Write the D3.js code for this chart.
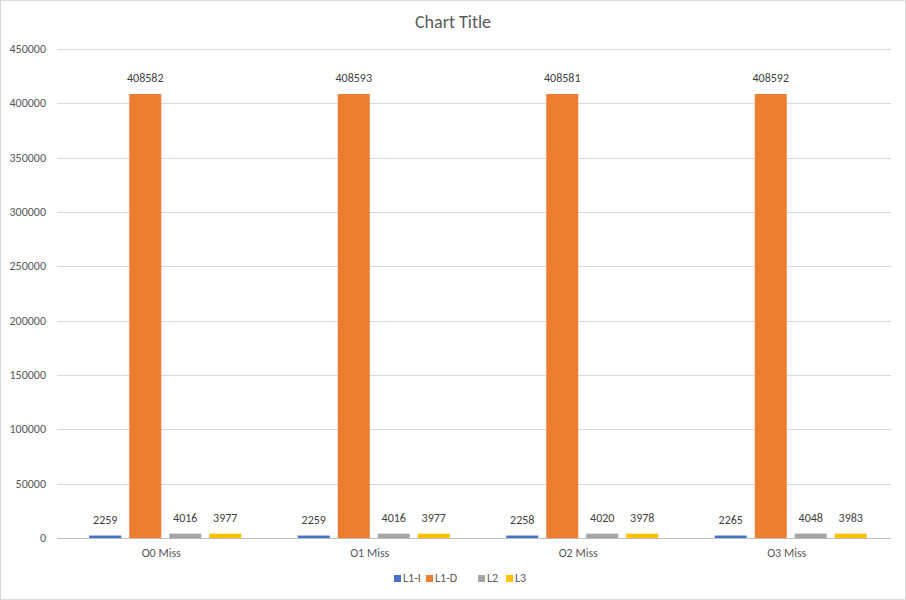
<!DOCTYPE html>
<html><head><meta charset="utf-8">
<script src="https://cdn.jsdelivr.net/npm/d3@7"></script>
<style>body{margin:0;font-family:Calibri,Carlito,"Liberation Sans",sans-serif;}</style>
</head><body>
<script>
const categories = ["O0 Miss", "O1 Miss", "O2 Miss", "O3 Miss"]
const seriesNames = ["L1-I", "L1-D", "L2", "L3"]
const colors = ["#4472c4", "#ed7d31", "#a5a5a5", "#ffc000"]
const values = [
  [2259, 2259, 2258, 2265],
  [408582, 408593, 408581, 408592],
  [4016, 4016, 4020, 4048],
  [3977, 3977, 3978, 3983]
]
const yTicks = d3.range(0, 450001, 50000)

const W = 906, H = 600
const plotLeft = 57, plotRight = 891, plotTop = 49, plotBottom = 538

const svg = d3.select("body").append("svg").attr("width", W).attr("height", H)
svg.append("rect").attr("x", 0.5).attr("y", 0.5).attr("width", W - 1).attr("height", H - 1)
  .attr("fill", "#fff").attr("stroke", "#d9d9d9")

const y = d3.scaleLinear().domain([0, 450000]).range([plotBottom, plotTop])
const x = d3.scaleBand().domain(categories).range([plotLeft, plotRight])
const inner = d3.scaleBand().domain(seriesNames).range([0, 152]).paddingInner(0.2)
const groupOff = (x.bandwidth() - 152) / 2 + 4

svg.append("g").selectAll("line").data(yTicks).enter().append("line")
  .attr("x1", plotLeft).attr("x2", plotRight)
  .attr("y1", d => Math.round(y(d)) + 0.5).attr("y2", d => Math.round(y(d)) + 0.5)
  .attr("stroke", d => d === 0 ? "#bfbfbf" : "#d9d9d9")

svg.append("g").selectAll("text").data(yTicks).enter().append("text")
  .attr("x", 46).attr("y", d => y(d) + 4).attr("text-anchor", "end")
  .attr("font-size", 12).attr("fill", "#595959").text(d => d)

svg.append("g").selectAll("text").data(categories).enter().append("text")
  .attr("x", d => x(d) + x.bandwidth() / 2).attr("y", 557).attr("text-anchor", "middle")
  .attr("font-size", 12).attr("fill", "#595959").text(d => d)

seriesNames.forEach((s, si) => {
  const g = svg.append("g")
  categories.forEach((c, ci) => {
    const v = values[si][ci]
    const bx = x(c) + groupOff + inner(s)
    g.append("rect").attr("x", bx).attr("y", y(v)).attr("width", inner.bandwidth())
      .attr("height", plotBottom - y(v)).attr("fill", colors[si])
    g.append("text").attr("x", bx + inner.bandwidth() / 2).attr("y", y(v) - 12)
      .attr("text-anchor", "middle").attr("font-size", 12).attr("fill", "#404040").text(v)
  })
})

svg.append("text").attr("x", W / 2).attr("y", 28).attr("text-anchor", "middle")
  .attr("font-size", 18).attr("fill", "#595959").text("Chart Title")

const lg = svg.append("g")
const lx = [394, 426, 478, 506]
seriesNames.forEach((s, i) => {
  lg.append("rect").attr("x", lx[i]).attr("y", 575).attr("width", 7).attr("height", 7).attr("fill", colors[i])
  lg.append("text").attr("x", lx[i] + 9).attr("y", 582).attr("font-size", 12).attr("fill", "#595959").text(s)
})
</script>
</body></html>
